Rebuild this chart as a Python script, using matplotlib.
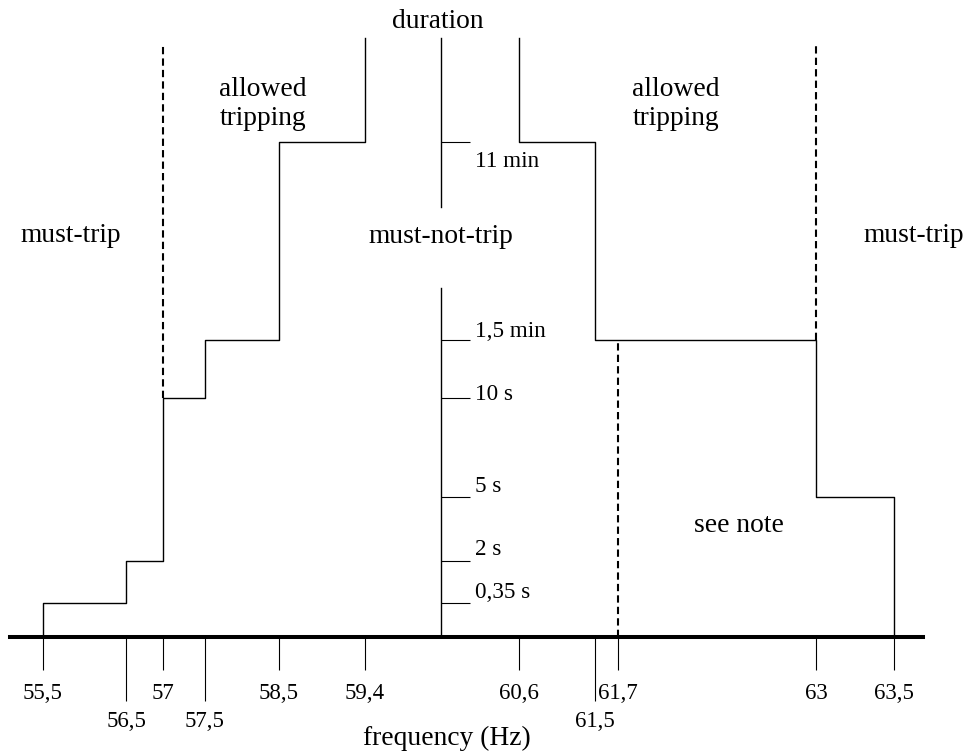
import matplotlib
matplotlib.use('Agg')
import matplotlib.pyplot as plt
import numpy as np

plt.rcParams['font.family'] = ['Liberation Serif', 'DejaVu Serif']

# frequency limits (Hz) of the under- and over-frequency steps
f_under = [55.5, 56.5, 57.0, 57.5, 58.5, 59.4]
t_under = [0.35, 2, 10, 90, 660]          # s, duration reached at each step
f_over = [60.6, 61.5, 63.0, 63.5]
t_over = [660, 90, 5]                     # s
f_nominal = 60.0
t_open = 1000                             # stands for "no time limit"
t_dash_top = 975

# dashed must-trip limits: (frequency, lower duration, upper duration)
dashed = [(57.0, 10, t_dash_top), (61.7, 0, 90), (63.0, 90, t_dash_top)]

freq_major = [55.5, 57.0, 58.5, 59.4, 60.6, 61.7, 63.0, 63.5]
freq_minor = [56.5, 57.5, 61.5]
fmt = lambda v: ('%g' % v).replace('.', ',')

dur_ticks = [0.35, 2, 5, 10, 90, 660]
dur_labels = ['0,35 s', '2 s', '5 s', '10 s', '1,5 min', '11 min']
dur_label_dy = [3.6, 4.3, 3.6, -1.4, 2.5, -18]   # pt, label baseline offset

# schematic (not to scale) layout of the drawing, in pixels
x_freq = [55.0, 55.5, 56.5, 57.0, 57.5, 58.5, 59.4, 60.0, 60.6, 61.5, 61.7, 63.0, 63.5, 64.0]
x_pix = [0, 43, 126, 163, 205, 279, 365, 441, 519, 595, 618, 816, 894, 967]
y_dur = [0, 0.35, 2, 5, 10, 90, 660, 1000, 1100]
y_pix = [0, 34, 76, 140, 239, 297, 495, 599, 637]

W, H = 967, 755
fig = plt.figure(figsize=(W / 100, H / 100), dpi=100)
ax = fig.add_axes([0, (H - 637) / H, 1, 637 / H])

ax.set_xscale('function', functions=(lambda f: np.interp(f, x_freq, x_pix),
                                     lambda p: np.interp(p, x_pix, x_freq)))
ax.set_yscale('function', functions=(lambda t: np.interp(t, y_dur, y_pix),
                                     lambda p: np.interp(p, y_pix, y_dur)))
ax.set_xlim(x_freq[0], x_freq[-1])
ax.set_ylim(y_dur[0], y_dur[-1])

lw = 1.0
ax.step([f_under[0]] + f_under, [0] + t_under + [t_open], where='post',
        color='black', lw=lw)
ax.step(f_over + [f_over[-1]], [t_open] + t_over + [0], where='pre',
        color='black', lw=lw)

for f, t0, t1 in dashed:
    ax.plot([f, f], [t0, t1], color='black', lw=1.5, dashes=(3.5, 2))

# centre duration axis, broken for the "must-not-trip" label
ax.axvline(f_nominal, ymin=0, ymax=349 / 637, color='black', lw=lw)
ax.axvline(f_nominal, ymin=430 / 637, ymax=599 / 637, color='black', lw=lw)

for sp in ['left', 'top', 'right']:
    ax.spines[sp].set_visible(False)
ax.spines['right'].set_position(('data', f_nominal))
ax.yaxis.set_ticks_position('right')
ax.set_yticks(dur_ticks)
ax.tick_params(axis='y', which='major', direction='out', length=21,
               width=0.8, labelright=False)
ax.yaxis.set_minor_locator(matplotlib.ticker.NullLocator())
for t, lab, dy in zip(dur_ticks, dur_labels, dur_label_dy):
    ax.annotate(lab, (f_nominal, t), xytext=(24.5, dy), textcoords='offset points',
                ha='left', va='baseline', fontsize=16.7)

# frequency axis
ax.spines['bottom'].set_linewidth(2.9)
ax.spines['bottom'].set_bounds(55.12, 63.7)
ax.spines['bottom'].set_zorder(5)
ax.set_xticks(freq_major, [fmt(v) for v in freq_major])
ax.set_xticks(freq_minor, [fmt(v) for v in freq_minor], minor=True)
ax.tick_params(axis='x', which='major', direction='out', length=23.8,
               width=0.8, pad=9, labelsize=16.5)
ax.tick_params(axis='x', which='minor', direction='out', length=46,
               width=0.8, pad=7, labelsize=16.5)

big = 19.8
def label(x, y, s, **kw):
    fig.text(x / W, 1 - y / H, s, ha='center', va='baseline', fontsize=big, **kw)

label(438, 28, 'duration')
label(71, 242, 'must-trip')
label(914, 242, 'must-trip')
label(441, 243, 'must-not-trip')
label(739, 532, 'see note')
label(447, 745, 'frequency (Hz)')
for x in [263, 676]:
    fig.text(x / W, 1 - 104 / H, 'allowed\ntripping', ha='center', va='center',
             fontsize=big, linespacing=1.2)

fig.savefig('out.png', dpi=100)
